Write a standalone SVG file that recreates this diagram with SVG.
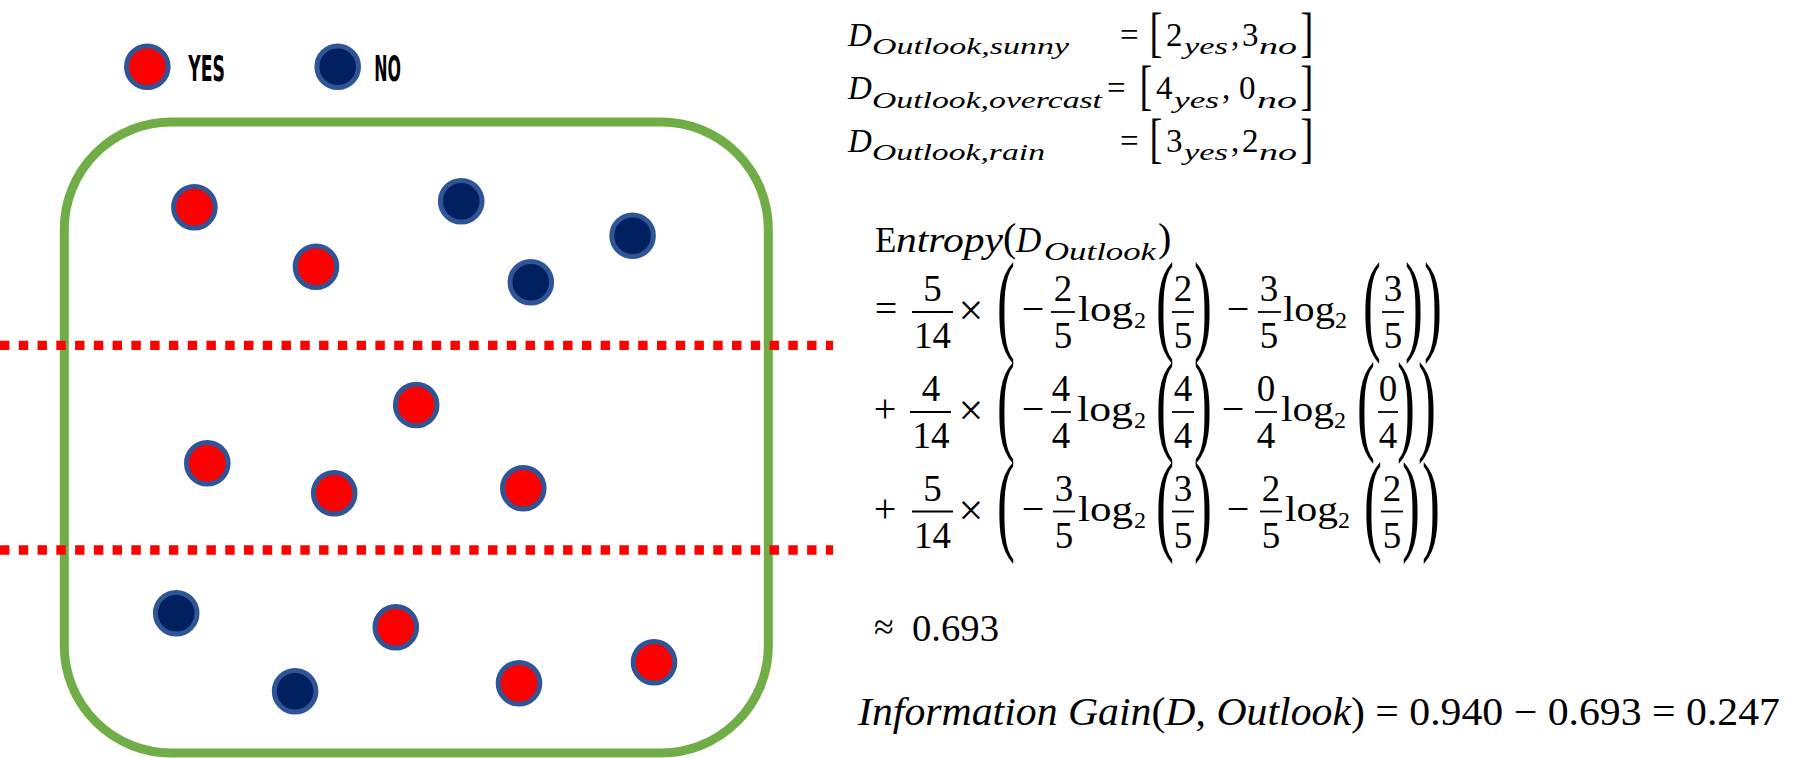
<svg xmlns="http://www.w3.org/2000/svg" width="1801" height="758" viewBox="0 0 1801 758">
<style>
.yes{fill:#FF0000;stroke:#2F5597;stroke-width:5}
.no{fill:#002060;stroke:#2F5597;stroke-width:5}
.box{fill:none;stroke:#70AD47;stroke-width:9}
.split{fill:none;stroke:#FF0000;stroke-width:9.3;stroke-dasharray:9.4 9.37}
.leg{font-family:"Liberation Sans Narrow","DejaVu Sans Condensed","Liberation Sans",sans-serif;font-weight:bold;font-size:35px;fill:#000}
.m{font-family:"Liberation Serif","Times New Roman",serif;fill:#000}
.i{font-style:italic}
.t{font-size:33px}
.s{font-size:23px;font-style:italic}
.r{font-size:36px}
.op{font-size:40px;text-anchor:middle}
.f{font-size:37px;text-anchor:middle}
.sb{font-size:24px}
.bar{stroke:#000;stroke-width:1.8}
.pa{font-size:112px;text-anchor:middle}
.br{font-size:55px;text-anchor:middle}
</style>

<g id="legend">
  <g id="legend-yes"><circle class="yes" cx="147.3" cy="66.7" r="20.8"/><text class="leg" x="188.3" y="81" textLength="36.7" lengthAdjust="spacingAndGlyphs">YES</text></g>
  <g id="legend-no"><circle class="no" cx="337.7" cy="66.7" r="20.8"/><text class="leg" x="374.3" y="81" textLength="26.7" lengthAdjust="spacingAndGlyphs">NO</text></g>
</g>

<g id="dataset">
  <rect class="box" x="64.3" y="122" width="704" height="631" rx="107" ry="107"/>
</g>

<g id="connectors">
  <line class="split" x1="0" y1="345.3" x2="833" y2="345.3"/>
  <line class="split" x1="0" y1="550" x2="833" y2="550"/>
</g>

<g id="points">
  <g id="p1"><circle class="yes" cx="194.4" cy="207.3" r="20.8"/></g>
  <g id="p2"><circle class="yes" cx="316" cy="266.7" r="20.8"/></g>
  <g id="p3"><circle class="no" cx="461.2" cy="201.3" r="20.8"/></g>
  <g id="p4"><circle class="no" cx="530.8" cy="282.3" r="20.8"/></g>
  <g id="p5"><circle class="no" cx="632.6" cy="235.7" r="20.8"/></g>
  <g id="p6"><circle class="yes" cx="416.2" cy="405" r="20.8"/></g>
  <g id="p7"><circle class="yes" cx="207.3" cy="463.3" r="20.8"/></g>
  <g id="p8"><circle class="yes" cx="334.2" cy="493.3" r="20.8"/></g>
  <g id="p9"><circle class="yes" cx="523.3" cy="488.3" r="20.8"/></g>
  <g id="p10"><circle class="no" cx="176.2" cy="613.3" r="20.8"/></g>
  <g id="p11"><circle class="yes" cx="395.8" cy="627.3" r="20.8"/></g>
  <g id="p12"><circle class="no" cx="295.1" cy="691.3" r="20.8"/></g>
  <g id="p13"><circle class="yes" cx="519" cy="683.3" r="20.8"/></g>
  <g id="p14"><circle class="yes" cx="654" cy="662.3" r="20.8"/></g>
</g>

<g id="partitions" class="m">
  <g id="sunny">
    <text class="t"><tspan class="i" x="848" y="45.7">D</tspan><tspan class="s" x="872" y="54" textLength="197" lengthAdjust="spacingAndGlyphs">Outlook,sunny</tspan><tspan x="1120" y="45.7">=</tspan><tspan x="1166" y="45.7">2</tspan><tspan class="s" x="1184" y="54" textLength="44" lengthAdjust="spacingAndGlyphs">yes</tspan><tspan x="1231" y="45.7">,</tspan><tspan x="1242" y="45.7">3</tspan><tspan class="s" x="1259" y="54" textLength="38" lengthAdjust="spacingAndGlyphs">no</tspan></text>
    <text class="br" transform="translate(1156,50.6) scale(0.7,1)">[</text>
    <text class="br" transform="translate(1307,50.6) scale(0.7,1)">]</text>
  </g>
  <g id="overcast">
    <text class="t"><tspan class="i" x="848" y="99.3">D</tspan><tspan class="s" x="872" y="107.6" textLength="230" lengthAdjust="spacingAndGlyphs">Outlook,overcast</tspan><tspan x="1107" y="99.3">=</tspan><tspan x="1156" y="99.3">4</tspan><tspan class="s" x="1174" y="107.6" textLength="45" lengthAdjust="spacingAndGlyphs">yes</tspan><tspan x="1222" y="99.3">,</tspan><tspan x="1239" y="99.3">0</tspan><tspan class="s" x="1257" y="107.6" textLength="40" lengthAdjust="spacingAndGlyphs">no</tspan></text>
    <text class="br" transform="translate(1146,104.2) scale(0.7,1)">[</text>
    <text class="br" transform="translate(1307,104.2) scale(0.7,1)">]</text>
  </g>
  <g id="rain">
    <text class="t"><tspan class="i" x="848" y="151.7">D</tspan><tspan class="s" x="872" y="160" textLength="173" lengthAdjust="spacingAndGlyphs">Outlook,rain</tspan><tspan x="1120" y="151.7">=</tspan><tspan x="1166" y="151.7">3</tspan><tspan class="s" x="1184" y="160" textLength="44" lengthAdjust="spacingAndGlyphs">yes</tspan><tspan x="1231" y="151.7">,</tspan><tspan x="1242" y="151.7">2</tspan><tspan class="s" x="1259" y="160" textLength="38" lengthAdjust="spacingAndGlyphs">no</tspan></text>
    <text class="br" transform="translate(1156,156.6) scale(0.7,1)">[</text>
    <text class="br" transform="translate(1307,156.6) scale(0.7,1)">]</text>
  </g>
</g>

<g id="entropy" class="m">
  <g id="entropy-head">
    <text style="font-size:35px"><tspan x="875" y="252">E</tspan><tspan class="i" x="896" y="252" textLength="107" lengthAdjust="spacingAndGlyphs">ntropy</tspan><tspan x="1003" y="251" style="font-size:40px">(</tspan><tspan class="i" x="1016" y="252">D</tspan><tspan class="i" x="1044" y="260" style="font-size:25px" textLength="112" lengthAdjust="spacingAndGlyphs">Outlook</tspan><tspan x="1158" y="251" style="font-size:40px">)</tspan></text>
  </g>

  <g id="row1">
    <text class="op" x="886" y="321.5">=</text>
    <text class="f" x="932.5" y="301">5</text><line class="bar" x1="912" y1="312" x2="953" y2="312"/><text class="f" x="932.5" y="348">14</text>
    <text x="971" y="325" style="font-size:44px;text-anchor:middle">×</text>
    <text class="pa" transform="translate(1006,340) scale(0.48,1)">(</text>
    <text class="op" x="1033" y="322">−</text>
    <text class="f" x="1063" y="301">2</text><line class="bar" x1="1051" y1="312" x2="1075" y2="312"/><text class="f" x="1063" y="348">5</text>
    <text class="r" x="1078" y="321" textLength="55" lengthAdjust="spacingAndGlyphs">log</text>
    <text class="sb" x="1134" y="328">2</text>
    <text class="pa" transform="translate(1165,340) scale(0.48,1)">(</text>
    <text class="f" x="1183" y="301">2</text><line class="bar" x1="1172" y1="312" x2="1194" y2="312"/><text class="f" x="1183" y="348">5</text>
    <text class="pa" transform="translate(1203,340) scale(0.48,1)">)</text>
    <text class="op" x="1238" y="322">−</text>
    <text class="f" x="1269" y="301">3</text><line class="bar" x1="1258" y1="312" x2="1281" y2="312"/><text class="f" x="1269" y="348">5</text>
    <text class="r" x="1283" y="321" textLength="52" lengthAdjust="spacingAndGlyphs">log</text>
    <text class="sb" x="1335" y="328">2</text>
    <text class="pa" transform="translate(1372,340) scale(0.48,1)">(</text>
    <text class="f" x="1393" y="301">3</text><line class="bar" x1="1382" y1="312" x2="1404" y2="312"/><text class="f" x="1393" y="348">5</text>
    <text class="pa" transform="translate(1414,340) scale(0.48,1)">)</text>
    <text class="pa" transform="translate(1433,340) scale(0.48,1)">)</text>
  </g>

  <g id="row2">
    <text class="op" x="885" y="422">+</text>
    <text class="f" x="931" y="401">4</text><line class="bar" x1="910" y1="412" x2="951" y2="412"/><text class="f" x="931" y="448">14</text>
    <text x="971" y="425" style="font-size:44px;text-anchor:middle">×</text>
    <text class="pa" transform="translate(1006,440) scale(0.48,1)">(</text>
    <text class="op" x="1033" y="422">−</text>
    <text class="f" x="1061" y="401">4</text><line class="bar" x1="1051" y1="412" x2="1071" y2="412"/><text class="f" x="1061" y="448">4</text>
    <text class="r" x="1077" y="421" textLength="56" lengthAdjust="spacingAndGlyphs">log</text>
    <text class="sb" x="1134" y="428">2</text>
    <text class="pa" transform="translate(1165,440) scale(0.48,1)">(</text>
    <text class="f" x="1183" y="401">4</text><line class="bar" x1="1172" y1="412" x2="1194" y2="412"/><text class="f" x="1183" y="448">4</text>
    <text class="pa" transform="translate(1203,440) scale(0.48,1)">)</text>
    <text class="op" x="1233" y="422">−</text>
    <text class="f" x="1266" y="401">0</text><line class="bar" x1="1255" y1="412" x2="1277" y2="412"/><text class="f" x="1266" y="448">4</text>
    <text class="r" x="1281" y="421" textLength="53" lengthAdjust="spacingAndGlyphs">log</text>
    <text class="sb" x="1334" y="428">2</text>
    <text class="pa" transform="translate(1366,440) scale(0.48,1)">(</text>
    <text class="f" x="1388" y="401">0</text><line class="bar" x1="1378" y1="412" x2="1398" y2="412"/><text class="f" x="1388" y="448">4</text>
    <text class="pa" transform="translate(1406,440) scale(0.48,1)">)</text>
    <text class="pa" transform="translate(1427,440) scale(0.48,1)">)</text>
  </g>

  <g id="row3">
    <text class="op" x="885" y="521.5">+</text>
    <text class="f" x="932.5" y="500.5">5</text><line class="bar" x1="912" y1="511.5" x2="953" y2="511.5"/><text class="f" x="932.5" y="547.5">14</text>
    <text x="971" y="524.5" style="font-size:44px;text-anchor:middle">×</text>
    <text class="pa" transform="translate(1006,539.5) scale(0.48,1)">(</text>
    <text class="op" x="1033" y="521.5">−</text>
    <text class="f" x="1064" y="500.5">3</text><line class="bar" x1="1053" y1="511.5" x2="1075" y2="511.5"/><text class="f" x="1064" y="547.5">5</text>
    <text class="r" x="1078" y="520.5" textLength="55" lengthAdjust="spacingAndGlyphs">log</text>
    <text class="sb" x="1134" y="527.5">2</text>
    <text class="pa" transform="translate(1165,539.5) scale(0.48,1)">(</text>
    <text class="f" x="1183" y="500.5">3</text><line class="bar" x1="1172" y1="511.5" x2="1194" y2="511.5"/><text class="f" x="1183" y="547.5">5</text>
    <text class="pa" transform="translate(1203,539.5) scale(0.48,1)">)</text>
    <text class="op" x="1238" y="521.5">−</text>
    <text class="f" x="1271" y="500.5">2</text><line class="bar" x1="1260" y1="511.5" x2="1282" y2="511.5"/><text class="f" x="1271" y="547.5">5</text>
    <text class="r" x="1285" y="520.5" textLength="53" lengthAdjust="spacingAndGlyphs">log</text>
    <text class="sb" x="1338" y="527.5">2</text>
    <text class="pa" transform="translate(1373,539.5) scale(0.48,1)">(</text>
    <text class="f" x="1392" y="500.5">2</text><line class="bar" x1="1381" y1="511.5" x2="1403" y2="511.5"/><text class="f" x="1392" y="547.5">5</text>
    <text class="pa" transform="translate(1411,539.5) scale(0.48,1)">)</text>
    <text class="pa" transform="translate(1431,539.5) scale(0.48,1)">)</text>
  </g>

  <g id="approx">
    <text style="font-size:38px"><tspan x="874" y="639" style="font-size:36px">≈</tspan><tspan x="912" y="641" textLength="87" lengthAdjust="spacingAndGlyphs">0.693</tspan></text>
  </g>
</g>

<g id="gain" class="m">
  <text x="858" y="725" style="font-size:40px" textLength="922" lengthAdjust="spacingAndGlyphs"><tspan font-style="italic">Information Gain</tspan>(<tspan font-style="italic">D</tspan>, <tspan font-style="italic">Outlook</tspan>) = 0.940 − 0.693 = 0.247</text>
</g>
</svg>
